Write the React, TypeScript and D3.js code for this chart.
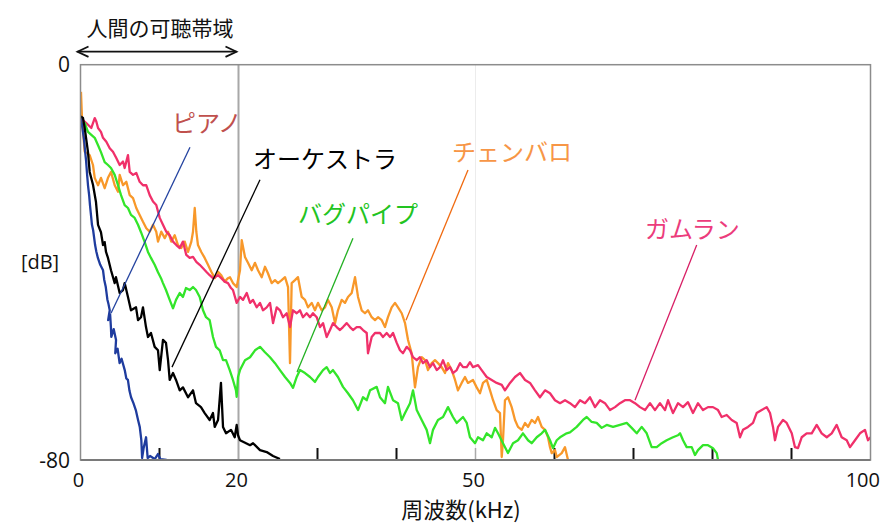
import React from "react";
import * as d3 from "d3";

type P = [number, number];

// frequency [kHz], level [dB]
const piano: P[] = [[0.05,-10.8],[0.3,-13.5],[0.45,-15.2],[0.6,-17.8],[0.7,-19.3],[0.85,-22.5],[0.95,-24.4],[1.1,-26.5],[1.2,-28.4],[1.35,-30.8],[1.45,-32.4],[1.6,-33.5],[1.85,-36.5],[2.0,-37.8],[2.2,-39.1],[2.5,-40.5],[2.85,-41.6],[3.0,-43.5],[3.2,-45.0],[3.4,-47.5],[3.55,-48.5],[3.7,-49.7],[3.5,-51.7],[3.75,-50.5],[3.85,-53.1],[3.9,-55.1],[4.2,-53.5],[4.5,-55.7],[4.4,-58.4],[4.7,-57.5],[4.95,-60.4],[5.2,-59.5],[5.6,-61.8],[5.8,-63.5],[6.0,-63.8],[6.2,-66],[6.4,-67.3],[6.7,-68.5],[7.0,-69.9],[7.3,-72],[7.5,-73.3],[7.7,-76],[7.8,-79.6],[8.0,-77.5],[8.3,-75.4],[8.5,-79.6],[8.8,-79.2],[9.4,-79.8],[9.8,-78.8],[10.1,-79.8],[10.9,-80]];

const orchestra: P[] = [[0.03,-10.5],[0.32,-10.8],[0.53,-12.8],[0.95,-17.7],[1.16,-21.7],[1.58,-24.3],[1.96,-27.8],[2.22,-32.4],[2.59,-33.9],[2.85,-36.5],[3.06,-35.9],[3.23,-37.9],[3.48,-39.1],[3.86,-41.6],[4.33,-44.2],[4.49,-43.0],[4.96,-46.2],[5.38,-45.6],[5.59,-44.2],[6.01,-47.0],[6.39,-49.7],[7.03,-49.1],[7.28,-51.7],[7.66,-51.1],[7.91,-49.1],[8.29,-53.1],[8.54,-55.1],[8.92,-54.3],[9.39,-57.1],[9.81,-57.8],[10.03,-61.8],[10.44,-55.7],[10.82,-56.3],[11.08,-59.8],[11.29,-63.8],[11.71,-62.4],[12.09,-63.8],[12.56,-65.9],[12.97,-65.3],[13.61,-67.3],[14.24,-65.9],[14.62,-68.5],[15.25,-69.3],[15.72,-70.5],[16.35,-71.9],[16.77,-70.5],[16.99,-73.3],[17.41,-71.9],[17.78,-64.4],[18.04,-73.3],[18.42,-74.6],[19.05,-73.9],[19.52,-75.4],[19.77,-72.9],[19.94,-75.0],[20.19,-76.0],[21.46,-77.0],[21.84,-76.6],[22.72,-78.0],[23.57,-78.4],[24.37,-79.2],[25.25,-79.8]];

const bagpipe: P[] = [[0.03,-12.2],[0.53,-11.8],[0.95,-13.6],[1.37,-14.2],[1.80,-14.8],[2.22,-16.3],[2.59,-17.7],[3.06,-19.7],[3.48,-20.3],[3.86,-20.9],[4.33,-22.3],[4.75,-24.4],[5.13,-26.4],[5.59,-28.4],[6.01,-29.0],[6.39,-30.4],[6.86,-31.0],[7.28,-32.4],[7.66,-33.9],[8.13,-35.9],[8.54,-37.9],[8.92,-39.1],[9.39,-40.5],[9.81,-42.0],[10.19,-43.2],[10.44,-44.2],[10.82,-45.6],[11.29,-47.6],[11.71,-49.3],[12.09,-47.6],[12.56,-46.2],[12.97,-47.0],[13.35,-45.2],[13.82,-45.6],[14.24,-45.0],[14.62,-45.6],[15.09,-47.0],[15.51,-49.7],[15.89,-51.1],[16.35,-51.7],[16.77,-55.1],[17.15,-57.1],[17.62,-57.8],[18.04,-59.8],[18.42,-59.8],[18.89,-61.8],[19.30,-63.8],[19.68,-65.9],[19.77,-67.2],[19.94,-63.2],[20.19,-61.8],[20.82,-59.8],[21.46,-59.2],[22.09,-57.8],[22.72,-57.1],[23.35,-58.2],[23.99,-59.2],[24.62,-60.4],[25.25,-61.8],[25.89,-63.2],[26.52,-64.4],[26.90,-65.4],[27.37,-63.2],[27.78,-61.8],[28.42,-62.4],[29.05,-63.2],[29.68,-64.2],[30.06,-63.2],[30.70,-61.8],[31.16,-61.2],[31.58,-62.4],[31.96,-61.8],[32.59,-63.2],[33.23,-65.2],[33.86,-66.5],[34.49,-67.9],[35.13,-69.9],[35.76,-67.3],[36.23,-67.9],[36.65,-65.9],[37.49,-65.2],[37.91,-67.3],[38.54,-68.5],[38.92,-65.2],[39.56,-67.9],[40.19,-68.5],[40.66,-71.9],[41.08,-70.5],[41.71,-68.5],[42.09,-65.9],[42.56,-69.9],[43.19,-71.9],[43.82,-73.9],[44.24,-76.6],[44.62,-73.9],[45.25,-71.9],[45.89,-71.3],[46.52,-69.3],[47.15,-71.3],[47.62,-72.5],[48.42,-71.3],[48.89,-72.5],[49.30,-75.4],[49.94,-76.6],[50.32,-75.4],[50.95,-76.0],[51.42,-74.6],[52.05,-75.4],[52.47,-73.5],[52.85,-74.6],[53.48,-76.6],[54.11,-78.6],[54.75,-76.6],[55.38,-76.0],[56.01,-74.6],[56.65,-76.0],[57.11,-76.6],[57.75,-75.4],[58.38,-74.6],[58.80,-73.9],[59.43,-76.0],[59.81,-77.6],[60.28,-76.0],[60.70,-75.4],[61.54,-74.6],[61.96,-74.4],[62.81,-73.3],[63.61,-71.9],[64.08,-71.3],[64.71,-72.3],[65.34,-72.5],[65.97,-73.5],[66.61,-72.9],[67.41,-73.3],[68.29,-72.9],[69.14,-72.5],[69.77,-73.5],[70.41,-74.6],[71.04,-73.3],[71.67,-74.6],[72.30,-77.4],[72.94,-77.4],[73.57,-76.6],[74.20,-76.0],[75.0,-75.4],[75.63,-75.0],[75.89,-74.6],[76.27,-76.0],[76.73,-77.4],[77.37,-77.4],[77.78,-79.0],[78.16,-78.0],[78.80,-77.0],[79.43,-77.0],[80.06,-77.6],[80.53,-78.6],[80.70,-80.0]];

const gamelan: P[] = [[0.03,-10.8],[0.73,-11.8],[1.37,-12.8],[1.80,-10.8],[2.00,-11.5],[2.22,-12.8],[2.59,-13.6],[2.85,-14.8],[3.27,-15.6],[3.70,-16.9],[4.11,-17.6],[4.53,-18.9],[4.96,-20.3],[5.38,-19.6],[5.59,-20.9],[6.01,-18.3],[6.23,-21.7],[6.65,-22.3],[7.06,-21.9],[7.49,-23.7],[7.91,-24.4],[8.33,-24.4],[8.76,-26.4],[9.18,-27.7],[9.59,-28.4],[10.03,-31.0],[10.44,-32.4],[10.86,-33.8],[11.29,-34.5],[11.71,-35.8],[12.13,-36.5],[12.56,-37.1],[12.97,-35.8],[13.39,-38.5],[13.82,-39.1],[14.24,-38.9],[14.66,-39.9],[15.09,-40.5],[15.51,-41.2],[15.92,-41.9],[16.35,-42.6],[16.77,-43.2],[17.41,-42.6],[17.82,-43.2],[18.25,-43.9],[18.67,-44.2],[19.05,-45.2],[19.30,-45.6],[19.77,-48.2],[20.19,-47.0],[20.57,-47.6],[21.04,-46.2],[21.46,-48.2],[21.84,-47.6],[22.30,-49.1],[22.72,-48.2],[23.10,-49.7],[23.57,-49.1],[23.99,-48.2],[24.37,-52.3],[24.84,-49.1],[25.25,-49.7],[25.63,-51.1],[26.10,-50.3],[26.52,-53.1],[26.90,-49.7],[27.37,-50.3],[27.78,-49.7],[28.16,-51.1],[28.63,-50.3],[29.05,-51.1],[29.43,-50.3],[29.90,-51.1],[30.32,-53.1],[30.70,-52.3],[31.16,-55.1],[31.58,-53.7],[31.96,-52.3],[32.43,-53.1],[32.85,-53.7],[33.23,-53.1],[33.70,-52.3],[34.11,-53.1],[34.49,-53.7],[34.96,-53.1],[35.38,-53.1],[35.76,-53.7],[36.23,-54.3],[36.39,-58.4],[36.86,-55.1],[37.28,-54.3],[37.91,-54.3],[38.29,-55.1],[38.76,-54.3],[39.18,-55.1],[39.56,-54.3],[40.03,-56.3],[40.44,-57.8],[40.82,-58.4],[41.29,-57.1],[41.71,-57.8],[42.09,-59.2],[42.56,-59.8],[42.97,-59.2],[43.35,-60.4],[43.82,-59.8],[44.24,-61.2],[44.62,-60.4],[45.09,-61.8],[45.51,-61.2],[45.89,-59.8],[46.35,-61.8],[46.77,-61.2],[47.15,-62.4],[47.62,-61.8],[48.04,-60.4],[48.42,-61.2],[48.89,-61.2],[49.30,-60.2],[49.68,-61.2],[50.32,-60.8],[50.78,-61.8],[51.42,-63.2],[52.05,-63.8],[52.68,-64.4],[53.32,-64.8],[53.73,-65.9],[54.37,-64.4],[55.0,-63.2],[55.63,-62.4],[56.27,-63.8],[56.90,-64.4],[57.53,-65.9],[58.16,-67.3],[58.80,-65.9],[59.43,-66.5],[60.06,-67.9],[60.70,-68.5],[61.33,-67.9],[61.96,-68.5],[62.59,-69.3],[63.23,-67.9],[63.86,-68.5],[64.49,-67.3],[65.13,-69.3],[65.76,-67.9],[66.39,-68.5],[67.03,-69.9],[67.66,-69.3],[68.29,-68.5],[68.92,-67.9],[69.56,-67.9],[70.19,-68.5],[70.82,-69.3],[71.46,-69.9],[72.09,-68.5],[72.72,-69.9],[73.35,-68.5],[73.99,-69.9],[74.37,-67.9],[75.0,-70.5],[75.63,-68.5],[76.27,-69.3],[76.90,-68.3],[77.53,-70.5],[78.16,-68.5],[78.80,-69.9],[79.43,-69.3],[80.06,-69.3],[80.70,-69.9],[81.16,-71.3],[81.80,-70.9],[82.43,-71.9],[83.06,-72.5],[83.48,-75.4],[83.86,-73.9],[84.49,-73.3],[85.13,-72.5],[85.59,-70.5],[86.23,-69.9],[86.86,-69.3],[87.28,-70.5],[87.66,-73.3],[87.91,-76.0],[88.29,-73.3],[88.92,-71.9],[89.39,-72.5],[90.03,-74.6],[90.44,-77.4],[90.82,-77.6],[91.29,-75.4],[91.92,-74.6],[92.56,-74.6],[93.19,-72.9],[93.82,-74.6],[94.46,-75.4],[95.09,-74.6],[95.72,-72.9],[96.35,-75.4],[96.99,-76.0],[97.41,-77.4],[98.04,-76.0],[98.67,-74.6],[99.30,-73.9],[99.68,-76.0],[100,-75.4]];

const harpsichord: P[] = [[0.06,-5.5],[0.19,-10.8],[0.53,-17.6],[1.16,-18.3],[1.58,-20.3],[1.80,-22.9],[2.22,-24.4],[2.59,-22.9],[3.06,-25.0],[3.48,-22.9],[3.86,-21.7],[4.33,-24.4],[4.75,-25.7],[4.96,-22.3],[5.38,-24.4],[5.80,-23.7],[6.23,-26.4],[6.65,-27.0],[7.06,-29.0],[7.49,-30.4],[7.91,-31.8],[8.33,-33.1],[8.76,-33.8],[9.18,-32.4],[9.59,-33.8],[9.81,-35.8],[10.23,-33.8],[10.66,-35.1],[11.08,-33.8],[11.49,-35.8],[11.92,-34.5],[12.34,-36.5],[12.76,-37.1],[13.19,-35.8],[13.61,-37.9],[14.03,-35.8],[14.24,-33.8],[14.46,-29.0],[14.66,-33.8],[14.87,-36.5],[15.29,-37.9],[15.72,-39.1],[16.14,-40.5],[16.56,-41.9],[16.99,-43.2],[17.41,-41.9],[17.82,-42.6],[18.25,-43.9],[18.67,-43.2],[18.92,-43.0],[19.30,-44.2],[19.77,-45.0],[20.19,-41.6],[20.41,-35.5],[20.82,-38.9],[21.20,-40.1],[21.67,-41.6],[22.09,-40.1],[22.47,-41.6],[22.94,-43.0],[23.35,-40.9],[23.73,-42.2],[24.20,-44.2],[24.62,-43.6],[25.0,-44.2],[25.47,-43.6],[25.89,-43.0],[26.27,-45.0],[26.52,-60.4],[26.73,-44.2],[27.15,-43.6],[27.53,-43.0],[28.0,-47.0],[28.42,-47.6],[28.80,-49.1],[29.27,-48.2],[29.68,-49.7],[30.06,-48.2],[30.53,-49.7],[30.95,-49.1],[31.33,-47.6],[31.80,-49.1],[32.22,-52.3],[32.59,-49.7],[33.06,-47.6],[33.48,-48.2],[33.86,-47.0],[34.33,-46.2],[34.75,-43.0],[35.13,-47.0],[35.59,-49.7],[36.01,-50.3],[36.39,-49.7],[36.86,-51.1],[37.28,-51.7],[37.66,-51.1],[38.13,-51.7],[38.54,-53.1],[38.92,-51.1],[39.39,-49.1],[39.81,-48.2],[40.19,-49.1],[40.66,-50.3],[41.08,-52.3],[41.46,-55.7],[41.92,-58.4],[42.34,-65.3],[42.72,-61.2],[43.19,-59.2],[43.61,-59.8],[43.99,-61.8],[44.46,-60.4],[44.87,-59.8],[45.25,-60.4],[45.72,-61.2],[46.14,-62.4],[46.52,-60.4],[46.99,-61.8],[47.41,-63.8],[47.78,-65.9],[48.25,-64.4],[48.67,-63.2],[49.05,-64.4],[49.68,-63.8],[50.15,-65.3],[50.57,-66.5],[50.95,-64.4],[51.42,-63.8],[51.84,-65.9],[52.22,-67.9],[52.68,-69.9],[53.10,-70.5],[53.32,-79.4],[53.48,-76.0],[53.73,-67.9],[54.11,-67.3],[54.58,-69.3],[55.0,-71.9],[55.38,-73.3],[55.85,-73.9],[56.27,-72.5],[56.65,-73.3],[57.11,-71.9],[57.53,-72.5],[57.91,-71.3],[58.38,-73.3],[58.80,-73.9],[59.18,-75.4],[59.43,-77.4],[59.65,-78.6],[60.06,-78.0],[60.28,-79.4],[60.91,-78.6],[61.33,-77.4],[61.71,-80]];

const minorTicks = [10, 30, 40, 60, 70, 80, 90];
const xTickLabels = [0, 20, 50, 100];
const yTickLabels = [0, -80];

type Ann = { text: string; color: string; lineColor: string; at: P; from: P; to: P };
const annotations: Ann[] = [
  { text: "ピアノ", color: "#C0504D", lineColor: "#2443A0", at: [11.58, -13.7], from: [13.86, -16.7], to: [3.86, -50.3] },
  { text: "オーケストラ", color: "#000000", lineColor: "#000000", at: [21.84, -20.9], from: [22.72, -23.3], to: [11.58, -61.2] },
  { text: "バグパイプ", color: "#22C422", lineColor: "#22B022", at: [27.53, -32.0], from: [34.49, -35.1], to: [27.41, -62.2] },
  { text: "チェンバロ", color: "#F79646", lineColor: "#F06A10", at: [47.03, -19.5], from: [49.05, -21.3], to: [41.2, -51.7] },
  { text: "ガムラン", color: "#EC3C7C", lineColor: "#D81E64", at: [71.46, -35.1], from: [78.0, -36.5], to: [70.19, -67.9] },
];

const series = [
  { name: "harpsichord", data: harpsichord, color: "#F8982A" },
  { name: "gamelan", data: gamelan, color: "#F0306A" },
  { name: "bagpipe", data: bagpipe, color: "#33E52A" },
  { name: "piano", data: piano, color: "#1F3C9E" },
  { name: "orchestra", data: orchestra, color: "#000000" },
];

const JP = "'Noto Sans CJK JP', 'Noto Sans', sans-serif";
const NUM = "'Open Sans', 'Noto Sans', sans-serif";

export default function App() {
  const W = 885, H = 527;
  const x = d3.scaleLinear().domain([0, 100]).range([80.5, 870.5]);
  const y = d3.scaleLinear().domain([-80, 0]).range([460, 64.7]);
  const line = d3.line<P>().x((d) => x(d[0])).y((d) => y(Math.max(-80, d[1])));
  const x0 = x(0), x1 = x(100), yb = y(-80), yt = y(0);

  return (
    <svg width={W} height={H} style={{ position: "absolute", left: 0, top: 0, background: "#fff" }}>
      <defs>
        <clipPath id="plot">
          <rect x={x0} y={yt - 40} width={x1 - x0} height={yb - yt + 40} />
        </clipPath>
      </defs>
      <rect x={0} y={0} width={W} height={H} fill="#fff" />
      {/* grid */}
      <line x1={x(50)} x2={x(50)} y1={yt} y2={yb} stroke="#ececec" strokeWidth={1} />
      <line x1={x(20)} x2={x(20)} y1={yt} y2={yb} stroke="#a8a8a8" strokeWidth={2} />
      {/* ticks */}
      {minorTicks.map((t) => (
        <line key={t} x1={x(t)} x2={x(t)} y1={yb} y2={yb - 12} stroke="#111" strokeWidth={2} />
      ))}
      <line x1={x(50)} x2={x(50)} y1={yb} y2={yb - 12} stroke="#aaa" strokeWidth={1.5} />
      {/* series */}
      <g clipPath="url(#plot)">
        {series.map((s) => (
          <path key={s.name} d={line(s.data) || ""} fill="none" stroke={s.color} strokeWidth={2.3} strokeLinejoin="round" />
        ))}
      </g>
      {/* frame */}
      <rect x={x0} y={yt} width={x1 - x0} height={yb - yt} fill="none" stroke="#8c8c8c" strokeWidth={1.5} />
      <line x1={x0} x2={x1} y1={yb} y2={yb} stroke="#7a7a7a" strokeWidth={2} />
      {/* leader lines and labels */}
      {annotations.map((a) => (
        <g key={a.text}>
          <line x1={x(a.from[0])} y1={y(a.from[1])} x2={x(a.to[0])} y2={y(a.to[1])} stroke={a.lineColor} strokeWidth={1.3} />
          <text x={x(a.at[0])} y={y(a.at[1])} fill={a.color} fontFamily={JP} fontSize={24}>{a.text}</text>
        </g>
      ))}
      {/* x tick labels */}
      {xTickLabels.map((t, i) => (
        <text key={t} x={i === xTickLabels.length - 1 ? 880 : x(t) - 2} y={487} textAnchor={i === xTickLabels.length - 1 ? "end" : "middle"} fontFamily={NUM} fontSize={20} fill="#111">{t}</text>
      ))}
      {/* y tick labels */}
      {yTickLabels.map((t) => (
        <text key={t} x={70} y={y(t) + 7.5} textAnchor="end" fontFamily={NUM} fontSize={21} fill="#111">{t}</text>
      ))}
      <text x={40} y={269} textAnchor="middle" fontFamily={NUM} fontSize={20} fill="#111">[dB]</text>
      <text x={461} y={518} textAnchor="middle" fontFamily={JP} fontSize={22} fill="#111">周波数(kHz)</text>
      {/* audible range */}
      <text x={160} y={36} textAnchor="middle" fontFamily={JP} fontSize={21} fill="#111">人間の可聴帯域</text>
      <g stroke="#111" strokeWidth={1.8} fill="none">
        <line x1={x(0) - 3} x2={x(20) - 2} y1={51.7} y2={51.7} />
        <polyline points={`${x(0) + 8},${46.5} ${x(0) - 3},${51.7} ${x(0) + 8},${56.9}`} />
        <polyline points={`${x(20) - 13},${46.5} ${x(20) - 2},${51.7} ${x(20) - 13},${56.9}`} />
      </g>
    </svg>
  );
}
